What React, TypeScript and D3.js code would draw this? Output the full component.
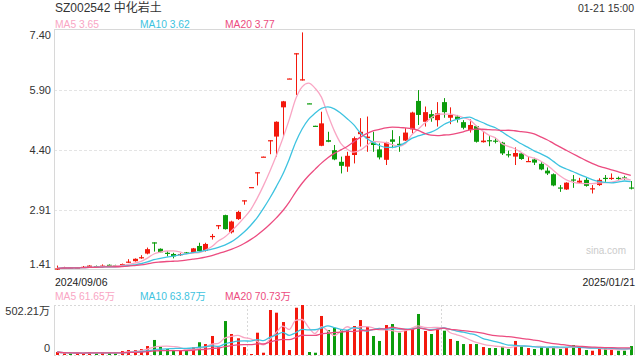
import React from "react";
import * as d3 from "d3";

const W = 640;
const H = 360;

// OHLC data (daily), 2024/09/06 .. 2025/01/21
const opens = [1.43,1.46,1.47,1.46,1.47,1.48,1.51,1.51,1.54,1.53,1.53,1.60,1.63,1.71,1.82,2.10,1.94,1.84,1.81,1.78,1.85,1.84,2.01,1.89,2.24,2.52,2.78,2.35,2.68,3.14,3.47,3.83,4.23,4.64,4.74,5.47,6.18,6.81,6.15,5.57,5.01,4.51,4.65,4.40,4.11,3.99,4.28,4.80,4.70,4.59,4.42,4.16,4.67,4.56,4.64,4.92,5.63,5.11,5.30,5.15,5.60,5.21,5.24,5.10,4.90,5.00,4.60,4.65,4.64,4.59,4.30,4.24,4.32,4.12,4.17,4.06,3.89,3.80,3.47,3.42,3.67,3.59,3.66,3.44,3.53,3.71,3.69,3.71,3.72,3.47];
const closes = [1.45,1.47,1.46,1.47,1.49,1.52,1.49,1.52,1.52,1.52,1.56,1.62,1.69,1.73,1.93,2.08,1.85,1.83,1.75,1.81,1.83,1.95,1.88,2.06,2.26,2.53,2.43,2.62,2.86,3.15,3.48,3.85,4.24,4.65,5.11,5.62,6.19,6.82,6.17,5.56,5.00,5.07,4.61,4.17,4.01,4.26,4.70,4.86,4.74,4.53,4.22,4.59,4.61,4.54,4.84,5.34,5.28,5.35,5.20,5.32,5.35,5.28,5.17,4.96,5.03,4.61,4.64,4.63,4.62,4.32,4.28,4.33,4.18,4.13,4.09,3.92,3.82,3.52,3.45,3.59,3.65,3.64,3.51,3.45,3.66,3.69,3.71,3.70,3.71,3.46];
const highs = [1.52,1.49,1.48,1.48,1.51,1.53,1.52,1.55,1.55,1.54,1.57,1.68,1.70,1.78,1.97,2.10,1.95,1.88,1.84,1.83,1.86,1.96,2.09,2.09,2.31,2.53,2.79,2.64,2.89,3.15,3.48,3.85,4.24,4.65,5.12,5.63,6.19,6.82,7.34,5.57,5.01,5.36,4.86,4.53,4.24,4.36,4.74,5.20,5.24,4.86,4.57,4.61,4.90,4.75,4.95,5.36,5.90,5.49,5.40,5.60,5.70,5.47,5.28,5.15,5.17,5.01,4.86,4.75,4.71,4.61,4.39,4.47,4.34,4.24,4.21,4.10,3.97,3.82,3.53,3.60,3.78,3.71,3.71,3.53,3.70,3.78,3.82,3.74,3.76,3.63];
const lows = [1.41,1.45,1.45,1.45,1.46,1.47,1.48,1.49,1.51,1.51,1.52,1.59,1.62,1.69,1.80,1.87,1.84,1.75,1.70,1.76,1.81,1.83,1.87,1.87,2.17,2.43,2.42,2.32,2.66,3.04,3.47,3.52,4.23,4.30,4.24,4.74,6.18,5.78,6.14,5.56,5.00,4.50,4.60,4.15,3.82,3.86,4.07,4.49,4.36,4.36,4.17,4.03,4.45,4.36,4.63,4.82,5.03,4.99,5.11,4.99,5.21,5.05,5.09,4.92,4.84,4.59,4.59,4.50,4.57,4.28,4.22,4.03,4.16,4.12,4.03,3.90,3.78,3.50,3.36,3.41,3.46,3.57,3.49,3.32,3.51,3.61,3.66,3.66,3.66,3.42];
// volume in 万 shares
const volumes = [30,17,17,17,17,30,17,27,20,17,40,50,50,60,90,151,83,60,40,50,40,77,128,110,191,77,341,211,168,80,10,224,23,452,425,331,50,475,502,30,23,392,251,274,251,251,291,351,284,191,141,301,311,224,244,268,412,241,211,258,244,161,141,110,110,110,80,70,70,83,60,141,90,70,60,77,77,83,60,77,100,77,50,43,60,67,60,43,43,90];

const dateLabels = ["2024/09/06", "2025/01/21"];
const priceTicks = [7.40, 5.90, 4.40, 2.91, 1.41];
const priceTickLabels = ["7.40", "5.90", "4.40", "2.91", "1.41"];
const volTicks = [502.21, 0];
const volTickLabels = ["502.21万", "0"];
const title = "SZ002542 中化岩土";
const timeLabel = "01-21 15:00";
const priceLegend = ["MA5 3.65", "MA10 3.62", "MA20 3.77"];
const volLegend = ["MA5 61.65万", "MA10 63.87万", "MA20 70.73万"];
const maPeriods = [5, 10, 20];

const RED = "#f3190d";
const GREEN = "#0c9c0c";
const MA_COLORS = ["#f9a6c4", "#3ec3e0", "#ec4c80"];
const FONT = "Arial, 'Liberation Sans', 'Noto Sans CJK SC', sans-serif";

function movingAvg(arr: number[], n: number): number[] {
  return arr.map((_, i) => {
    const s = Math.max(0, i - n + 1);
    const slice = arr.slice(s, i + 1);
    return d3.mean(slice) as number;
  });
}

export default function App() {
  const left = 54, right = 634;
  const pTop = 30, pBottom = 270;
  const vTop = 305, vBottom = 355;
  const idx = d3.range(closes.length);
  const x = d3.scaleBand<number>().domain(idx).range([left, right]);
  const cx = (i: number) => (x(i) as number) + x.bandwidth() / 2;
  const y = d3.scaleLinear().domain([1.41, 7.40]).range([pBottom, pTop]);
  const yv = d3.scaleLinear().domain([0, 502.21]).range([vBottom, vTop]);

  const priceLines = maPeriods.map((n) => movingAvg(closes, n));
  const volLines = maPeriods.map((n) => movingAvg(volumes, n));
  const lineP = d3.line<number>().x((_, i) => cx(i)).y((d) => y(d)).curve(d3.curveMonotoneX);
  const lineV = d3.line<number>().x((_, i) => cx(i)).y((d) => yv(d)).curve(d3.curveMonotoneX);

  const isUp = (i: number) => closes[i] >= opens[i];
  const bodyW = 5;
  const volW = 3;
  const legendX = [55, 140, 225];

  return (
    <svg width={W} height={H} style={{ position: "absolute", left: 0, top: 0, fontFamily: FONT }}>
      <rect x={0} y={0} width={W} height={H} fill="#fff" />
      {/* header */}
      <text x={55} y={12} fontSize={12} fill="#333">{title}</text>
      <text x={634} y={12} fontSize={10.5} fill="#333" textAnchor="end">{timeLabel}</text>
      {priceLegend.map((t, k) => (
        <text key={t} x={legendX[k]} y={27.5} fontSize={10.3} fill={MA_COLORS[k]}>{t}</text>
      ))}

      {/* price grid */}
      {priceTicks.slice(1, 4).map((t) => (
        <line key={t} x1={left} x2={right} y1={Math.round(y(t)) + 0.5} y2={Math.round(y(t)) + 0.5}
          stroke="#e4e4e4" strokeDasharray="3,2" />
      ))}
      <rect x={left + 0.5} y={pTop - 0.5} width={right - left} height={pBottom - pTop} fill="none" stroke="#d8d8d8" />
      {priceTicks.map((t, k) => {
        let yy = y(t) + 4;
        if (k === 0) yy = y(t) + 8.5;
        if (k === priceTicks.length - 1) yy = y(t) - 2;
        return <text key={k} x={51} y={yy} fontSize={11} fill="#333" textAnchor="end">{priceTickLabels[k]}</text>;
      })}
      <text x={626} y={254} fontSize={10} fill="#cbcbcb" textAnchor="end">sina.com</text>

      {/* candles */}
      {idx.map((i) => {
        const c = isUp(i) ? RED : GREEN;
        const xc = Math.round(cx(i)) + 0.5;
        const yTop = y(Math.max(opens[i], closes[i]));
        const yBot = y(Math.min(opens[i], closes[i]));
        return (
          <g key={i}>
            <line x1={xc} x2={xc} y1={y(highs[i])} y2={y(lows[i])} stroke={c} strokeWidth={1} />
            <rect x={xc - bodyW / 2} y={yTop} width={bodyW} height={Math.max(1.2, yBot - yTop)} fill={c} />
          </g>
        );
      })}
      {priceLines.map((d, k) => (
        <path key={k} d={lineP(d) as string} fill="none" stroke={MA_COLORS[k]} strokeWidth={1.3} />
      ))}

      {/* dates */}
      <text x={55} y={285.5} fontSize={10.5} fill="#222">{dateLabels[0]}</text>
      <text x={635} y={285.5} fontSize={10.5} fill="#222" textAnchor="end">{dateLabels[1]}</text>

      {/* volume legend */}
      {volLegend.map((t, k) => (
        <text key={t} x={legendX[k]} y={299.5} fontSize={10.3} fill={MA_COLORS[k]}>{t}</text>
      ))}

      {/* volume panel */}
      <line x1={left} x2={right} y1={vTop + 0.5} y2={vTop + 0.5} stroke="#d8d8d8" strokeDasharray="2,2" />
      <line x1={left} x2={right} y1={vBottom + 0.5} y2={vBottom + 0.5} stroke="#d8d8d8" strokeDasharray="2,2" />
      <line x1={left + 0.5} x2={left + 0.5} y1={vTop} y2={vBottom} stroke="#d8d8d8" />
      <line x1={right + 0.5} x2={right + 0.5} y1={vTop} y2={vBottom} stroke="#d8d8d8" />
      {[1, 2].map((k) => {
        const xx = Math.round(left + ((right - left) * k) / 3) + 0.5;
        return <line key={k} x1={xx} x2={xx} y1={vTop} y2={vBottom} stroke="#d8d8d8" strokeDasharray="2,2" />;
      })}
      {volTicks.map((t, k) => (
        <text key={k} x={50} y={k === 0 ? yv(t) + 9.5 : yv(t) - 3.5} fontSize={11} fill="#333" textAnchor="end">{volTickLabels[k]}</text>
      ))}
      {idx.map((i) => {
        const xc = Math.round(cx(i));
        return (
          <rect key={i} x={xc - volW / 2 + 0.5} y={yv(volumes[i])} width={volW} height={Math.max(0.8, vBottom - yv(volumes[i]))}
            fill={isUp(i) ? RED : GREEN} />
        );
      })}
      {volLines.map((d, k) => (
        <path key={k} d={lineV(d) as string} fill="none" stroke={MA_COLORS[k]} strokeWidth={1.3} />
      ))}
    </svg>
  );
}
